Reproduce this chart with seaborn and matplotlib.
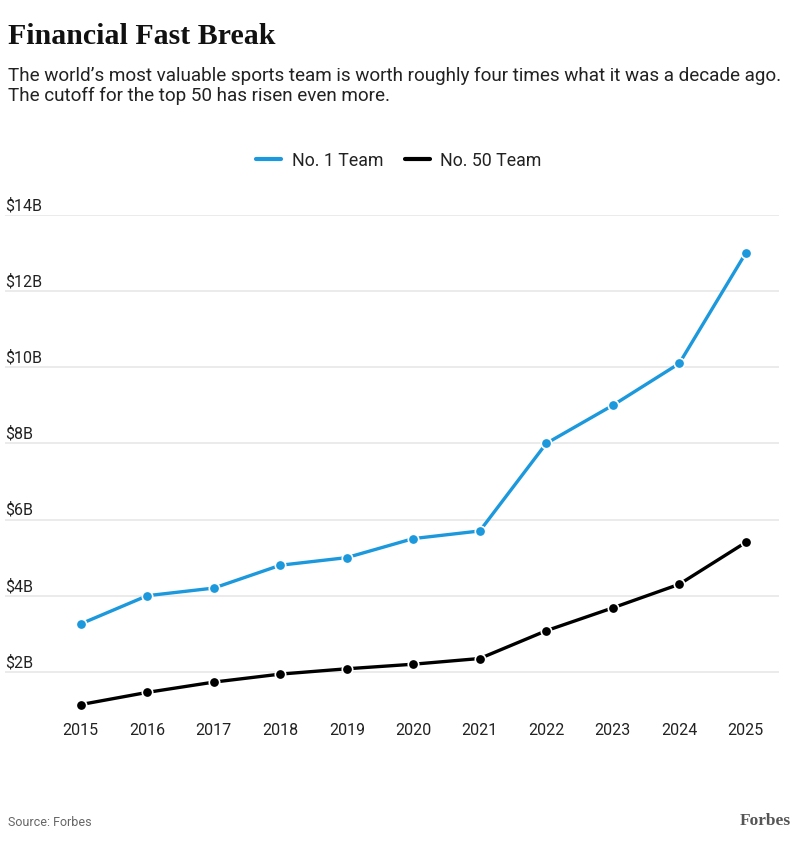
import matplotlib
matplotlib.use("Agg")
import matplotlib.pyplot as plt
from matplotlib.lines import Line2D
import matplotlib.transforms as mtransforms
import seaborn as sns
import pandas as pd

years = [2015, 2016, 2017, 2018, 2019, 2020, 2021, 2022, 2023, 2024, 2025]
no1_team = [3.26, 4.0, 4.2, 4.8, 5.0, 5.5, 5.7, 8.0, 9.0, 10.1, 13.0]
no50_team = [1.14, 1.46, 1.73, 1.94, 2.08, 2.2, 2.35, 3.08, 3.68, 4.3, 5.4]
series_names = ["No. 1 Team", "No. 50 Team"]
y_ticks = [2, 4, 6, 8, 10, 12, 14]
y_labels = ["$2B", "$4B", "$6B", "$8B", "$10B", "$12B", "$14B"]

title = "Financial Fast Break"
subtitle = ("The world\u2019s most valuable sports team is worth roughly four times what it was a decade ago.\n"
            "The cutoff for the top 50 has risen even more.")
source = "Source: Forbes"

df = pd.DataFrame({
    "year": years * 2,
    "value": no1_team + no50_team,
    "team": [series_names[0]] * len(years) + [series_names[1]] * len(years),
})

sns.set_theme(style="white")
plt.rcParams["font.family"] = ["Roboto", "DejaVu Sans"]

colors = {series_names[0]: "#1c98dc", series_names[1]: "#000000"}

fig = plt.figure(figsize=(8.04, 8.54), dpi=100)
W, H = 804, 854
ax = fig.add_axes([5 / W, (H - 714.7) / H, (779 - 5) / W, (714.7 - 216) / H])

ax.set_ylim(0.9, 14)
ax.set_xlim(2013.86, 2025.5)
ax.set_yticks(y_ticks)
ax.yaxis.grid(True, color="#e8e8e8", linewidth=1.2)
ax.xaxis.grid(False)
ax.set_axisbelow(True)

sns.lineplot(data=df, x="year", y="value", hue="team", palette=colors,
             linewidth=2.4, marker="o", markersize=7.5, markeredgecolor="white",
             markeredgewidth=1.2, ax=ax, legend=False, zorder=3)

for s in ax.spines.values():
    s.set_visible(False)
ax.set_xlabel("")
ax.set_ylabel("")
ax.set_xticks(years)
ax.set_xticklabels([str(y) for y in years], fontsize=11.5, color="#222222")
ax.tick_params(axis="x", length=0, pad=6)
ax.tick_params(axis="y", length=0, labelleft=False)

trans = mtransforms.blended_transform_factory(ax.transAxes, ax.transData)
for v, lab in zip(y_ticks, y_labels):
    ax.text(0.0, v + 0.07, lab, transform=trans, ha="left", va="bottom",
            fontsize=11.5, color="#222222")

fig.text(8 / W, 1 - 37 / H, title, fontsize=21.5, fontweight="bold",
         family=["Liberation Serif", "DejaVu Serif"], color="#111111", va="center", ha="left")
fig.text(8 / W, 1 - 86 / H, subtitle, fontsize=13.6, color="#222222", va="center", ha="left",
         linespacing=1.15)

handles = [Line2D([0], [0], color=colors[n], linewidth=3) for n in series_names]
fig.legend(handles, series_names, loc="center", bbox_to_anchor=(399 / W, 1 - 161 / H),
           ncol=2, frameon=False, fontsize=12.8, handlelength=1.4, columnspacing=1.2,
           handletextpad=0.6, labelcolor="#222222")

fig.text(8 / W, 1 - 823 / H, source, fontsize=9, color="#666666", va="center", ha="left")
fig.text(791 / W, 1 - 821 / H, "Forbes", fontsize=12.5, fontweight="bold",
         family=["Liberation Serif", "DejaVu Serif"], color="#555555", va="center", ha="right")

fig.savefig("out.png", dpi=100, facecolor="white")
